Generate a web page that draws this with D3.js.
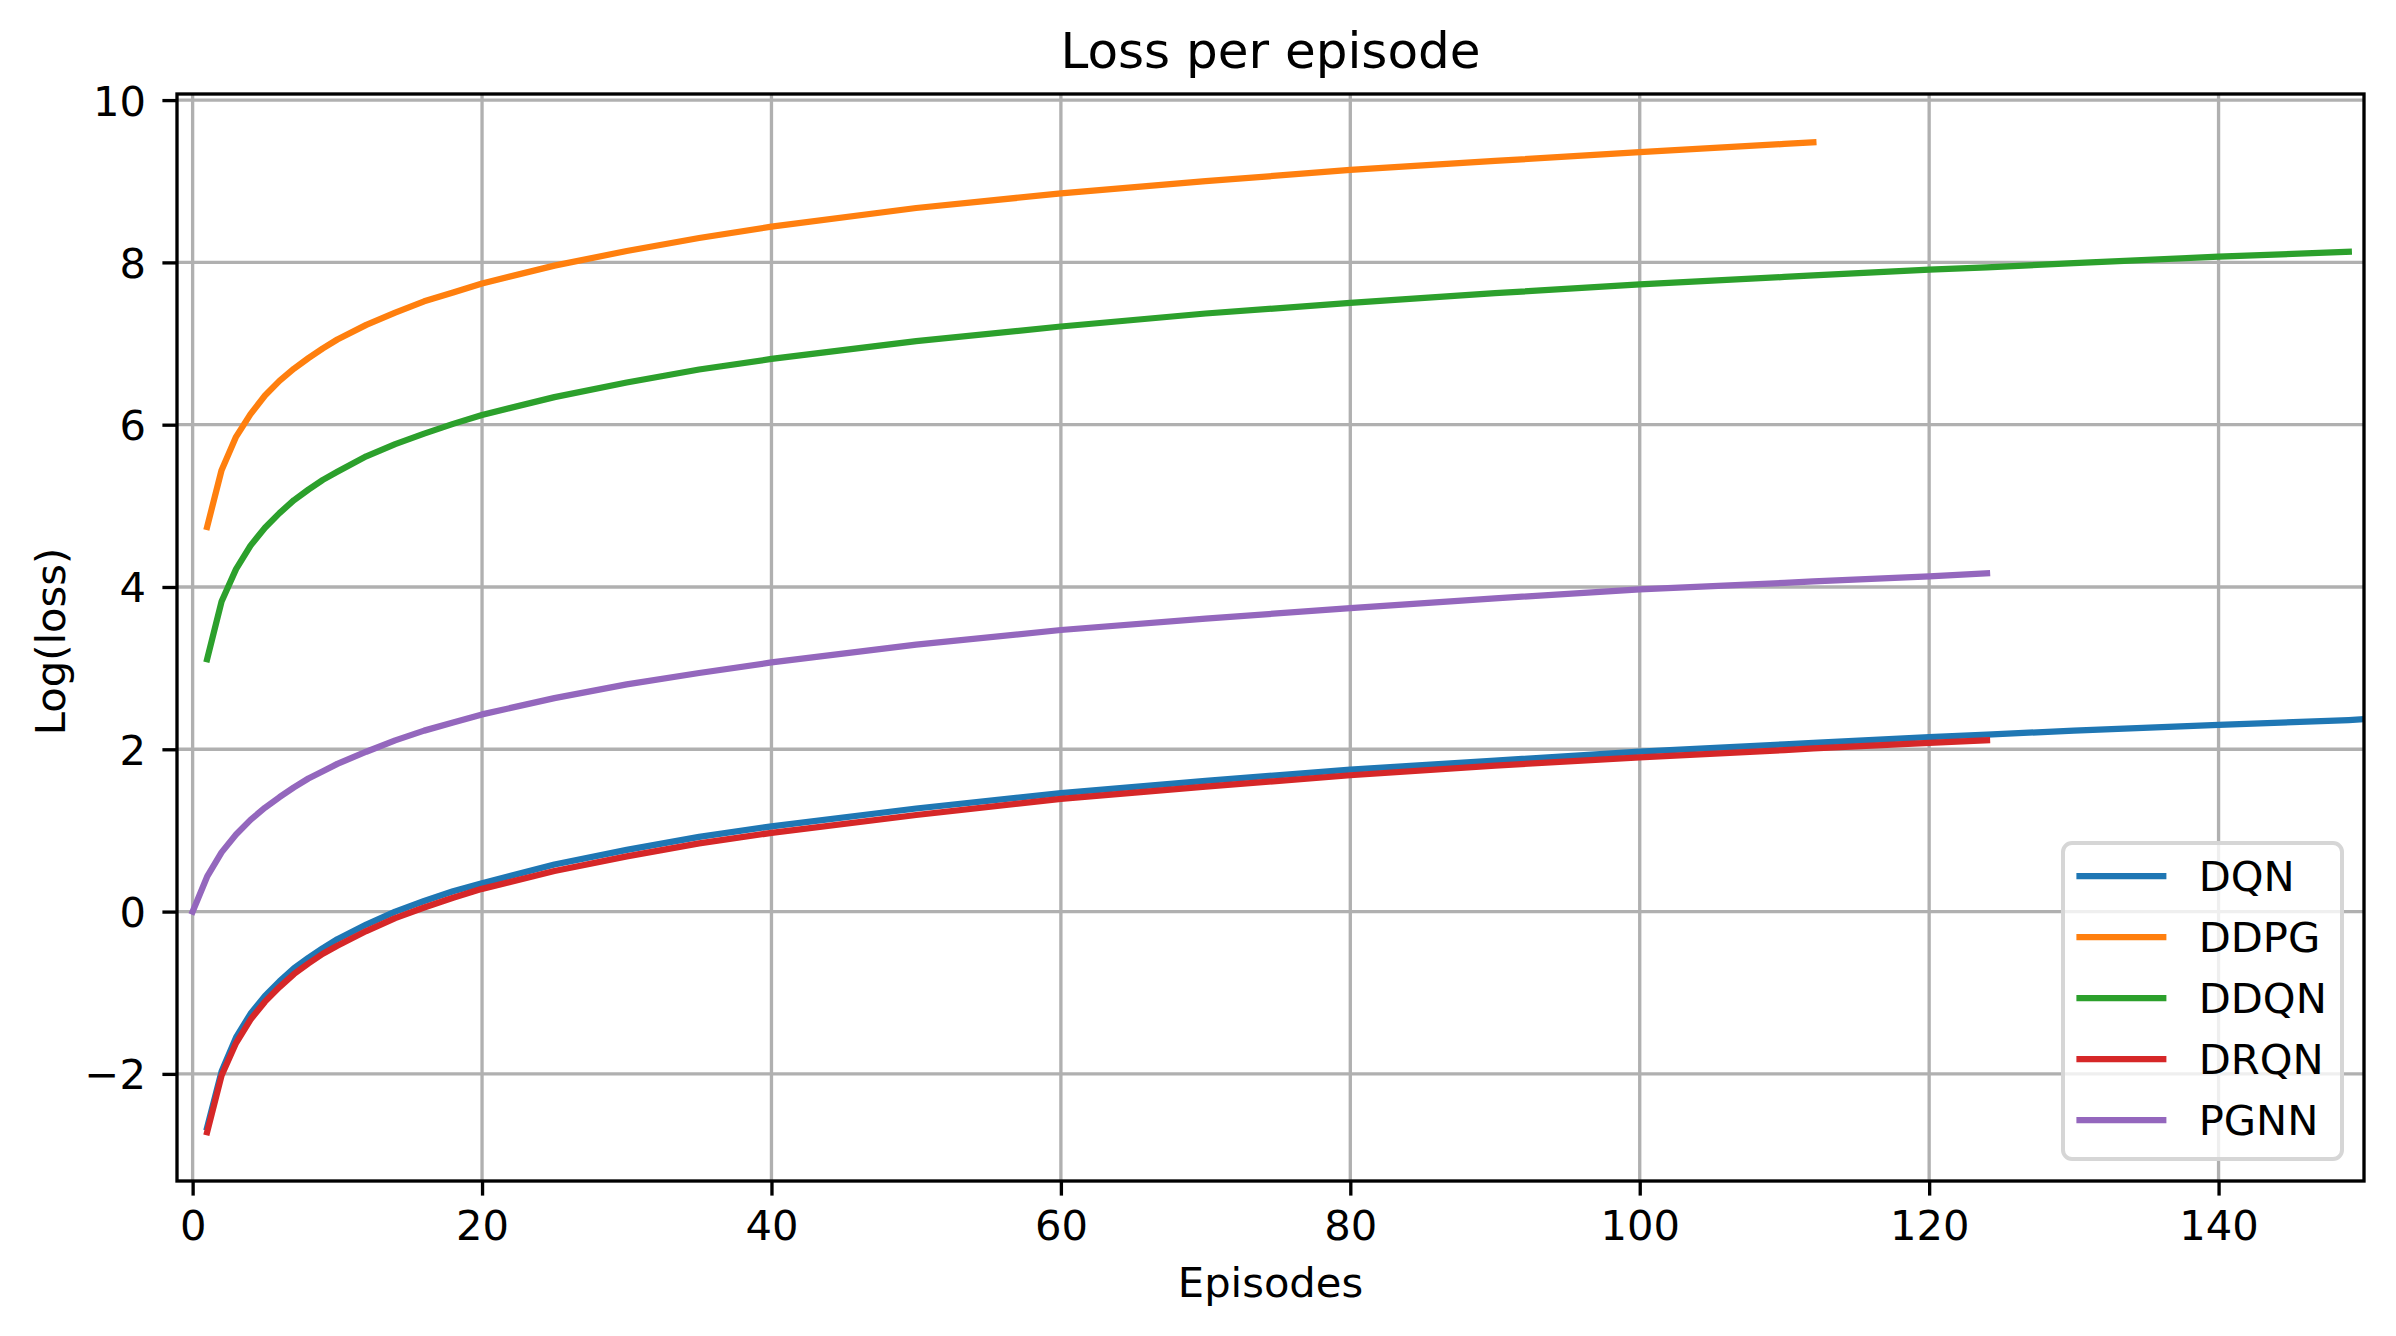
<!DOCTYPE html>
<html>
<head>
<meta charset="utf-8">
<title>Loss per episode</title>
<script src="https://cdnjs.cloudflare.com/ajax/libs/d3/7.8.5/d3.min.js"></script>
<style>
  html, body { margin: 0; padding: 0; background: #fff; }
  #chart { width: 2396px; height: 1336px; }
  text { font-family: "DejaVu Sans", sans-serif; fill: #000; }
  .grid line { stroke: #b0b0b0; stroke-width: 3.33; }
  .axis text { font-size: 41.67px; }
  .axis line { stroke: #000; stroke-width: 3.33; }
  .axis path.domain { display: none; }
  .series { fill: none; stroke-width: 6.25; stroke-linejoin: round; stroke-linecap: square; }
</style>
</head>
<body>
<div id="chart"></div>
<script>

const episodes = [0, 1, 2, 3, 4, 5, 6, 7, 8, 9, 10, 12, 14, 16, 18, 20, 25, 30, 35, 40,
                  50, 60, 70, 80, 90, 100, 110, 112, 120, 124, 130, 140, 149, 150];

const dqn  = [null, -2.66, -1.97, -1.55, -1.26, -1.04, -0.86, -0.70, -0.57, -0.45, -0.34, -0.16, 0.00, 0.13, 0.25, 0.35, 0.58, 0.76, 0.92, 1.05,
              1.27, 1.46, 1.61, 1.75, 1.86, 1.97, 2.06, 2.08, 2.15, 2.18, 2.23, 2.30, 2.36, 2.37];
const ddpg = [null, 4.74, 5.44, 5.85, 6.13, 6.36, 6.54, 6.69, 6.82, 6.94, 7.05, 7.23, 7.38, 7.52, 7.63, 7.74, 7.96, 8.14, 8.30, 8.44,
              8.67, 8.85, 9.00, 9.14, 9.25, 9.36, 9.46, 9.48, null, null, null, null, null, null];
const ddqn = [null, 3.11, 3.82, 4.22, 4.51, 4.73, 4.91, 5.07, 5.20, 5.32, 5.42, 5.61, 5.76, 5.89, 6.01, 6.12, 6.34, 6.52, 6.68, 6.81,
              7.03, 7.21, 7.37, 7.50, 7.62, 7.73, 7.82, 7.84, 7.91, 7.94, 7.99, 8.07, 8.13, null];
const drqn = [null, -2.72, -2.02, -1.62, -1.33, -1.11, -0.93, -0.77, -0.64, -0.52, -0.42, -0.24, -0.08, 0.05, 0.17, 0.28, 0.50, 0.68, 0.84, 0.97,
              1.19, 1.39, 1.54, 1.68, 1.80, 1.90, 1.99, 2.01, 2.08, 2.11, null, null, null, null];
const pgnn = [0.00, 0.43, 0.73, 0.95, 1.13, 1.28, 1.41, 1.53, 1.64, 1.73, 1.82, 1.97, 2.11, 2.23, 2.33, 2.43, 2.63, 2.80, 2.94, 3.07,
              3.29, 3.47, 3.61, 3.74, 3.86, 3.97, 4.05, 4.07, 4.13, 4.17, null, null, null, null];

const seriesNames = ["DQN", "DDPG", "DDQN", "DRQN", "PGNN"];
const seriesValues = [dqn, ddpg, ddqn, drqn, pgnn];

const xTicks = [0, 20, 40, 60, 80, 100, 120, 140];
const yTicks = [-2, 0, 2, 4, 6, 8, 10];

const titleText = "Loss per episode";
const xLabelText = "Episodes";
const yLabelText = "Log(loss)";

function LossChart(id) {
	this.id = id;
	this.margin = { top: 94, right: 32, bottom: 155, left: 177 };
	this.width = 0;
	this.height = 0;
	this.svg = null;
}

LossChart.prototype = {
	constructor: LossChart,

	init: function() {
		let self = this;
		let totalW = 2396, totalH = 1336;

		self.width = totalW - self.margin.left - self.margin.right;
		self.height = totalH - self.margin.top - self.margin.bottom;

		let root = d3.select(self.id).append("svg")
			.attr("width", totalW)
			.attr("height", totalH);

		self.svg = root.append("g")
			.attr("transform", "translate(" + self.margin.left + "," + self.margin.top + ")");

		let x = d3.scaleLinear().domain([-1.08, 150.05]).range([0, self.width]);
		let y = d3.scaleLinear().domain([-3.32, 10.075]).range([self.height, 0]);
		let color = d3.scaleOrdinal().domain(seriesNames).range(d3.schemeCategory10);

		// grid
		let grid = self.svg.append("g").attr("class", "grid");
		grid.selectAll(".gx").data(xTicks).enter().append("line")
			.attr("class", "gx")
			.attr("x1", d => x(d)).attr("x2", d => x(d))
			.attr("y1", 0).attr("y2", self.height);
		grid.selectAll(".gy").data(yTicks).enter().append("line")
			.attr("class", "gy")
			.attr("y1", d => y(d)).attr("y2", d => y(d))
			.attr("x1", 0).attr("x2", self.width);

		// axes
		self.svg.append("g")
			.attr("class", "axis x-axis")
			.attr("transform", "translate(0," + self.height + ")")
			.call(d3.axisBottom(x).tickValues(xTicks).tickSize(14.6).tickPadding(14.8).tickFormat(d3.format("d")));

		let yAxis = self.svg.append("g")
			.attr("class", "axis y-axis")
			.call(d3.axisLeft(y).tickValues(yTicks).tickSize(14.6).tickPadding(16.4)
				.tickFormat(d => d < 0 ? "\u2212" + Math.abs(d) : d));
		yAxis.selectAll("text").attr("dy", "0.36em");

		// series lines
		let series = seriesNames.map((name, i) => ({
			name: name,
			points: episodes.map((e, k) => ({ x: e, y: seriesValues[i][k] }))
		}));

		let line = d3.line()
			.defined(d => d.y !== null)
			.x(d => x(d.x))
			.y(d => y(d.y));

		root.append("defs").append("clipPath").attr("id", "plot-clip")
			.append("rect").attr("width", self.width).attr("height", self.height);

		self.svg.append("g")
			.attr("clip-path", "url(#plot-clip)")
			.selectAll("path")
			.data(series)
			.enter()
			.append("path")
			.attr("class", "series")
			.attr("d", d => line(d.points))
			.style("stroke", d => color(d.name));

		// spines
		self.svg.append("rect")
			.attr("width", self.width)
			.attr("height", self.height)
			.style("fill", "none")
			.style("stroke", "#000")
			.style("stroke-width", 3.33);

		// title and labels
		root.append("text")
			.attr("x", self.margin.left + self.width / 2)
			.attr("y", 68.3)
			.attr("text-anchor", "middle")
			.style("font-size", "50px")
			.text(titleText);

		root.append("text")
			.attr("x", self.margin.left + self.width / 2)
			.attr("y", 1297)
			.attr("text-anchor", "middle")
			.style("font-size", "41.67px")
			.text(xLabelText);

		root.append("text")
			.attr("transform", "translate(65," + (self.margin.top + self.height / 2 + 4) + ") rotate(-90)")
			.attr("text-anchor", "middle")
			.style("font-size", "41.67px")
			.text(yLabelText);

		self.drawLegend(color);
	},

	drawLegend: function(color) {
		let self = this;
		let boxW = 279, boxH = 316, rowH = 61;

		let legend = self.svg.append("g")
			.attr("class", "legend")
			.attr("transform", "translate(" + (self.width - 22 - boxW) + "," + (self.height - 22 - boxH) + ")");

		legend.append("rect")
			.attr("width", boxW)
			.attr("height", boxH)
			.attr("rx", 9)
			.attr("ry", 9)
			.style("fill", "rgba(255,255,255,0.8)")
			.style("stroke", "#d6d6d6")
			.style("stroke-width", 4);

		let items = legend.selectAll(".legend-item")
			.data(seriesNames)
			.enter()
			.append("g")
			.attr("class", "legend-item")
			.attr("transform", (d, i) => "translate(0," + (33 + i * rowH) + ")");

		items.append("line")
			.attr("x1", 13.4)
			.attr("x2", 103.4)
			.style("stroke", d => color(d))
			.style("stroke-width", 6.25);

		items.append("text")
			.attr("x", 135.7)
			.attr("y", 15)
			.style("font-size", "41.67px")
			.text(d => d);
	}
};

let chart = new LossChart("#chart");
chart.init();
</script>
</body>
</html>
